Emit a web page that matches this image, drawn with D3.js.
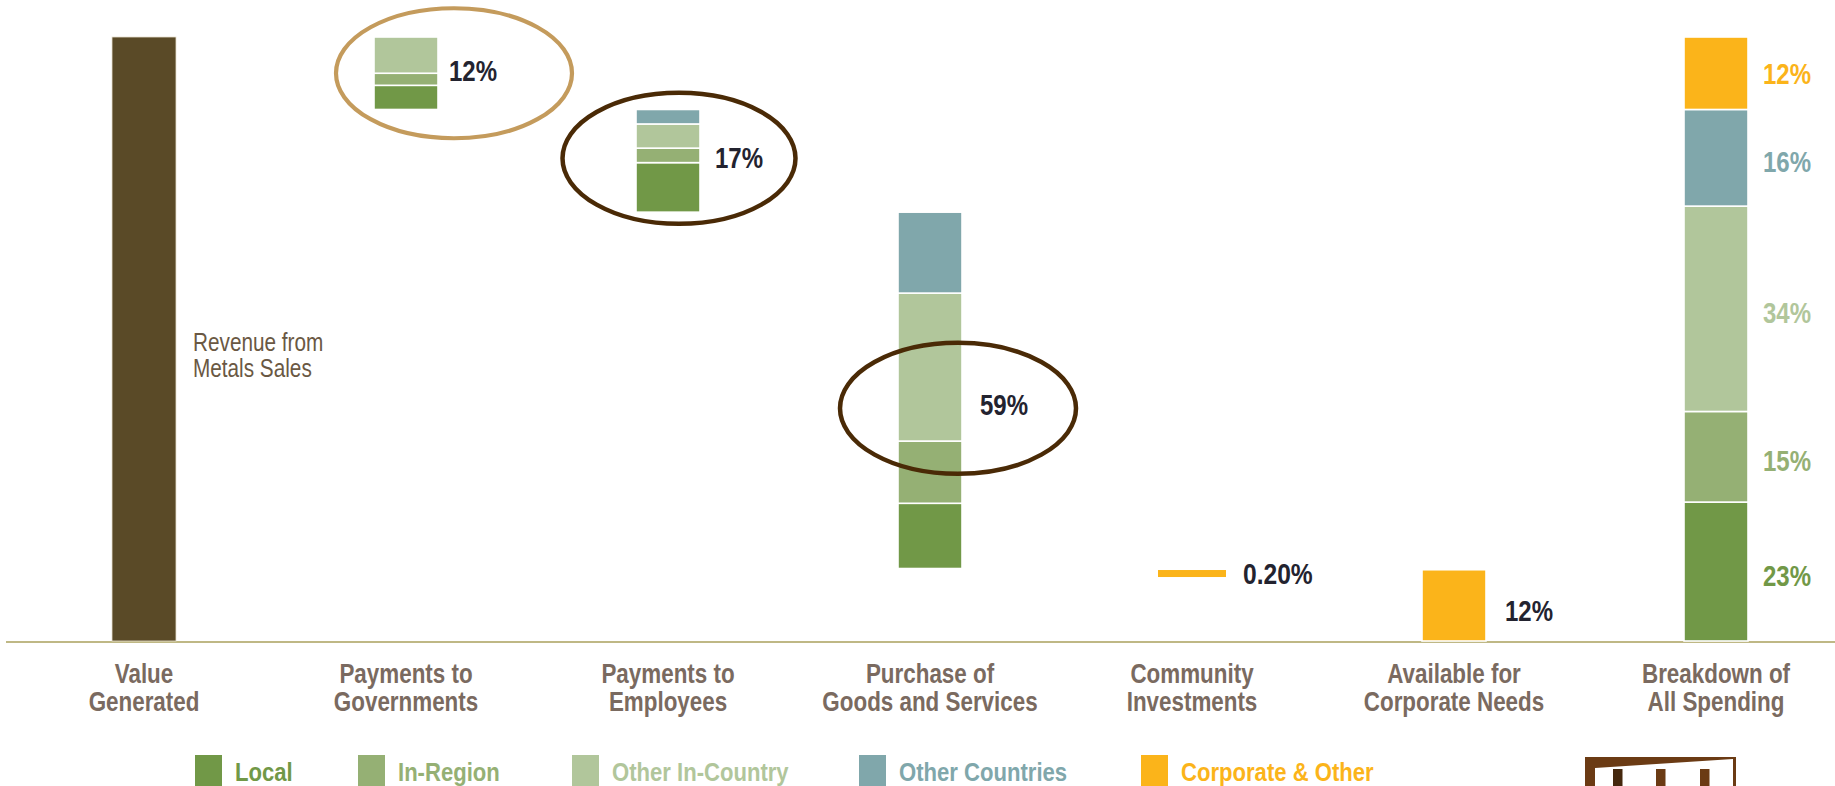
<!DOCTYPE html>
<html><head><meta charset="utf-8">
<script src="https://cdn.jsdelivr.net/npm/d3@7"></script>
<style>
html,body{margin:0;padding:0;background:#fff;overflow:hidden}
text{font-family:"Liberation Sans",Arial,sans-serif}
</style></head><body><svg id="c" width="1835" height="786"></svg>
<script>
// ---------- DATA ----------
const categories = ["Value Generated","Payments to Governments","Payments to Employees","Purchase of Goods and Services","Community Investments","Available for Corporate Needs","Breakdown of All Spending"];
const categoryLines = [["Value","Generated"],["Payments to","Governments"],["Payments to","Employees"],["Purchase of","Goods and Services"],["Community","Investments"],["Available for","Corporate Needs"],["Breakdown of","All Spending"]];
const series = ["Local","In-Region","Other In-Country","Other Countries","Corporate & Other"];
const seriesColors = ["#719847","#95b074","#b1c69b","#80a7ab","#fbb41a"];
const valueGenerated = 100;
const govValues = [4, 2, 6, 0, 0];
const empValues = [8.2, 2.4, 4.0, 2.4, 0];
const purchaseValues = [10.8, 10.3, 24.5, 13.4, 0];
const communityValues = [0, 0, 0, 0, 0.2];
const corporateValues = [0, 0, 0, 0, 11.8];
const breakdownValues = [23, 15, 34, 16, 12];
const stepLabels = ["12%", "17%", "59%", "0.20%", "12%"];
const breakdownLabels = ["23%", "15%", "34%", "16%", "12%"];
const revenueNote = ["Revenue from", "Metals Sales"];

// ---------- LAYOUT ----------
const W = 1835, H = 786;
const svg = d3.select("#c");
const x = d3.scalePoint().domain(categories).range([13, 1847]).padding(0.5);
const y = d3.scaleLinear().domain([0, 100]).range([641, 37]);
const barW = 64;

// condensed text helper (Arial-metric font squeezed like a condensed face)
function label(g, tx, ty, str, size, weight, fill, anchor, sx) {
  return g.append("text")
    .attr("transform", `translate(${tx},${ty}) scale(${sx || 0.8},1)`)
    .attr("text-anchor", anchor || "start")
    .attr("font-size", size).attr("font-weight", weight).attr("fill", fill).text(str);
}

// baseline
svg.append("line").attr("x1", 6).attr("x2", W).attr("y1", y(0) + 1).attr("y2", y(0) + 1)
  .attr("stroke", "#bfb885").attr("stroke-width", 2.2);

// value generated bar
svg.append("rect").attr("x", x(categories[0]) - barW / 2).attr("width", barW)
  .attr("y", y(valueGenerated)).attr("height", y(0) - y(valueGenerated))
  .attr("fill", "#5a4a27").attr("stroke", "#e8e2d0").attr("stroke-width", 0.8);

revenueNote.forEach((t, i) => label(svg, x(categories[0]) + barW / 2 + 17, 351 + i * 26, t, 25, "normal", "#6a5843", "start", 0.83));

// waterfall steps
const steps = [govValues, empValues, purchaseValues, communityValues, corporateValues];
let level = valueGenerated;
const stepInfo = [];
steps.forEach((vals, k) => {
  const total = d3.sum(vals);
  const base = level - total;
  const cat = categories[k + 1];
  stepInfo.push({cat, hi: level, base, total});
  if (k === 3) {
    // tiny value, drawn as a line
    svg.append("rect").attr("x", x(cat) - barW / 2 - 2).attr("width", barW + 4)
      .attr("y", y(level) + 1.5).attr("height", 7).attr("fill", seriesColors[4]);
  } else {
    let acc = base;
    vals.forEach((v, s) => {
      if (v <= 0) return;
      svg.append("rect").attr("x", x(cat) - barW / 2).attr("width", barW)
        .attr("y", y(acc + v)).attr("height", y(acc) - y(acc + v))
        .attr("fill", seriesColors[s]).attr("stroke", "#fff").attr("stroke-width", 1.6);
      acc += v;
    });
  }
  level = base;
});

// breakdown bar
{
  const cat = categories[6];
  let acc = 0;
  breakdownValues.forEach((v, s) => {
    svg.append("rect").attr("x", x(cat) - barW / 2).attr("width", barW)
      .attr("y", y(acc + v)).attr("height", y(acc) - y(acc + v))
      .attr("fill", seriesColors[s]).attr("stroke", "#fff").attr("stroke-width", 1.6);
    const mid = acc + v / 2;
    label(svg, x(cat) + barW / 2 + 15, y(mid) + 10.5 + (v > 14 ? 4 : 0), breakdownLabels[s], 30, "bold", seriesColors[s]);
    acc += v;
  });
}

// step labels
const labelCfg = [{gap: 11, dy: -3}, {gap: 15, dy: -3}, {gap: 18, dy: 14}, {gap: 17, dy: 0}, {gap: 19, dy: 5}];
stepInfo.forEach((d, k) => {
  const cy = k === 3 ? y(d.hi) + 5 : y((d.hi + d.base) / 2) + labelCfg[k].dy;
  const right = x(d.cat) + barW / 2 + (k === 3 ? 2 : 0);
  label(svg, right + labelCfg[k].gap, cy + 10.5, stepLabels[k], 30, "bold", "#23232f", "start", k === 3 ? 0.82 : 0.8);
});

// annotation ellipses
const ellCfg = [
  {k: 0, dx: 48, dy: 0, rx: 118, ry: 65, color: "#c49b5c", sw: 4.2},
  {k: 1, dx: 11, dy: -2.5, rx: 116.5, ry: 65.5, color: "#4a2a06", sw: 4.5},
  {k: 2, dx: 28, dy: 18, rx: 118, ry: 65.5, color: "#4a2a06", sw: 4.5}
];
ellCfg.forEach(e => {
  const d = stepInfo[e.k];
  svg.append("ellipse").attr("cx", x(d.cat) + e.dx).attr("cy", y((d.hi + d.base) / 2) + e.dy)
    .attr("rx", e.rx).attr("ry", e.ry).attr("fill", "none")
    .attr("stroke", e.color).attr("stroke-width", e.sw);
});

// category labels
const lab = svg.append("g");
categories.forEach((c, i) => {
  categoryLines[i].forEach((ln, j) => label(lab, x(c), 683 + j * 28, ln, 28, "bold", "#7a6a60", "middle", 0.8));
});

// legend
const legX = [195, 358, 572, 859, 1141];
const leg = svg.append("g");
series.forEach((s, i) => {
  leg.append("rect").attr("x", legX[i]).attr("y", 755).attr("width", 27).attr("height", 40).attr("fill", seriesColors[i]);
  label(leg, legX[i] + 40, 781, s, 26, "bold", seriesColors[i], "start", 0.85);
});

// partial logo mark bottom right
const logo = svg.append("g");
logo.append("rect").attr("x", 1585).attr("y", 757).attr("width", 151).attr("height", 40).attr("fill", "#6b3b14");
logo.append("polygon").attr("points", "1595,768 1733,759 1733,790 1595,790").attr("fill", "#fff");
[[1613, "#45280e"], [1656, "#6b3b14"], [1700, "#6b3b14"]].forEach(([bx, col]) => {
  logo.append("rect").attr("x", bx).attr("y", 769).attr("width", 9.5).attr("height", 30).attr("fill", col);
});
</script></body></html>
